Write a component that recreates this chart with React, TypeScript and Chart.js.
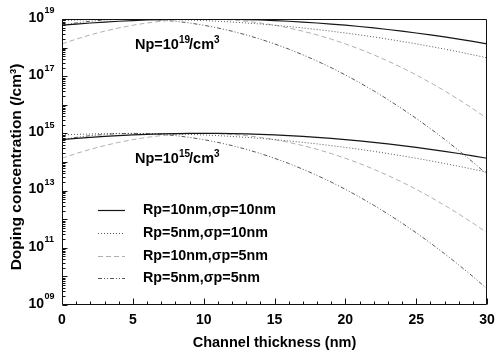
import { useEffect, useRef } from "react";
import { Chart, registerables } from "chart.js";

Chart.register(...registerables);

// Channel thickness (nm)
const X_NM = [0, 1, 2, 3, 4, 5, 6, 7, 8, 9, 10, 11, 12, 13, 14, 15, 16, 17, 18, 19, 20, 21, 22, 23, 24, 25, 26, 27, 28, 29, 30];

const SERIES_LABELS = [
  "Rp=10nm,\u03c3p=10nm",
  "Rp=5nm,\u03c3p=10nm",
  "Rp=10nm,\u03c3p=5nm",
  "Rp=5nm,\u03c3p=5nm",
];

// Np = 1e19 /cm3
const A19 = [6.07e18, 6.67e18, 7.26e18, 7.83e18, 8.36e18, 8.83e18, 9.23e18, 9.55e18, 9.8e18, 9.95e18, 1.0e19, 9.95e18, 9.8e18, 9.55e18, 9.23e18, 8.83e18, 8.36e18, 7.83e18, 7.26e18, 6.67e18, 6.07e18, 5.46e18, 4.86e18, 4.3e18, 3.75e18, 3.24e18, 2.78e18, 2.36e18, 1.98e18, 1.64e18, 1.35e18];
const B19 = [8.83e18, 9.23e18, 9.55e18, 9.8e18, 9.95e18, 1.0e19, 9.95e18, 9.8e18, 9.55e18, 9.23e18, 8.83e18, 8.36e18, 7.83e18, 7.26e18, 6.67e18, 6.07e18, 5.46e18, 4.86e18, 4.3e18, 3.75e18, 3.24e18, 2.78e18, 2.36e18, 1.98e18, 1.64e18, 1.35e18, 1.1e18, 8.89e17, 7.1e17, 5.61e17, 4.4e17];
const C19 = [1.35e18, 1.98e18, 2.78e18, 3.75e18, 4.86e18, 6.07e18, 7.26e18, 8.36e18, 9.23e18, 9.8e18, 1.0e19, 9.8e18, 9.23e18, 8.36e18, 7.26e18, 6.07e18, 4.86e18, 3.75e18, 2.78e18, 1.98e18, 1.35e18, 8.89e17, 5.61e17, 3.4e17, 1.99e17, 1.11e17, 5.97e16, 3.09e16, 1.53e16, 7.31e15, 3.36e15];
const D19 = [6.07e18, 7.26e18, 8.36e18, 9.23e18, 9.8e18, 1.0e19, 9.8e18, 9.23e18, 8.36e18, 7.26e18, 6.07e18, 4.86e18, 3.75e18, 2.78e18, 1.98e18, 1.35e18, 8.89e17, 5.61e17, 3.4e17, 1.99e17, 1.11e17, 5.97e16, 3.09e16, 1.53e16, 7.31e15, 3.36e15, 1.48e15, 6.25e14, 2.54e14, 9.93e13, 3.72e13];

// Np = 1e15 /cm3
const A15 = [6.07e14, 6.67e14, 7.26e14, 7.83e14, 8.36e14, 8.83e14, 9.23e14, 9.55e14, 9.8e14, 9.95e14, 1.0e15, 9.95e14, 9.8e14, 9.55e14, 9.23e14, 8.83e14, 8.36e14, 7.83e14, 7.26e14, 6.67e14, 6.07e14, 5.46e14, 4.86e14, 4.3e14, 3.75e14, 3.24e14, 2.78e14, 2.36e14, 1.98e14, 1.64e14, 1.35e14];
const B15 = [8.83e14, 9.23e14, 9.55e14, 9.8e14, 9.95e14, 1.0e15, 9.95e14, 9.8e14, 9.55e14, 9.23e14, 8.83e14, 8.36e14, 7.83e14, 7.26e14, 6.67e14, 6.07e14, 5.46e14, 4.86e14, 4.3e14, 3.75e14, 3.24e14, 2.78e14, 2.36e14, 1.98e14, 1.64e14, 1.35e14, 1.1e14, 8.89e13, 7.1e13, 5.61e13, 4.4e13];
const C15 = [1.35e14, 1.98e14, 2.78e14, 3.75e14, 4.86e14, 6.07e14, 7.26e14, 8.36e14, 9.23e14, 9.8e14, 1.0e15, 9.8e14, 9.23e14, 8.36e14, 7.26e14, 6.07e14, 4.86e14, 3.75e14, 2.78e14, 1.98e14, 1.35e14, 8.89e13, 5.61e13, 3.4e13, 1.99e13, 1.11e13, 5.97e12, 3.09e12, 1.53e12, 7.31e11, 3.36e11];
const D15 = [6.07e14, 7.26e14, 8.36e14, 9.23e14, 9.8e14, 1.0e15, 9.8e14, 9.23e14, 8.36e14, 7.26e14, 6.07e14, 4.86e14, 3.75e14, 2.78e14, 1.98e14, 1.35e14, 8.89e13, 5.61e13, 3.4e13, 1.99e13, 1.11e13, 5.97e12, 3.09e12, 1.53e12, 7.31e11, 3.36e11, 1.48e11, 6.25e10, 2.54e10, 9.93e9, 3.72e9];

const Y_TICK_VALUES = [1e9, 1e11, 1e13, 1e15, 1e17, 1e19];
const Y_TICK_EXPONENTS = ["09", "11", "13", "15", "17", "19"];
const X_TICK_VALUES = [0, 5, 10, 15, 20, 25, 30];

const X_TITLE = "Channel thickness (nm)";
const Y_TITLE = "Doping concentration (/cm\u00b3)";
const NOTE_BASES = [
  { value: 1e19, exp: "19" },
  { value: 1e15, exp: "15" },
];

const FONT = "'Liberation Sans', Arial, Helvetica, sans-serif";

const STYLES = [
  { color: "#151515", dash: [] as number[], width: 1.2 },
  { color: "#555555", dash: [1, 2], width: 1 },
  { color: "#b0b0b0", dash: [5, 3], width: 1 },
  { color: "#444444", dash: [4, 2, 1, 2, 1, 2], width: 0.9 },
];

const decorPlugin = {
  id: "decor",
  afterDraw(chart: any) {
    const ctx: CanvasRenderingContext2D = chart.ctx;
    const { left, right, top, bottom } = chart.chartArea;
    const xs = chart.scales.x;
    const ys = chart.scales.y;
    ctx.save();
    ctx.strokeStyle = "#111";
    ctx.lineWidth = 1;
    ctx.setLineDash([]);
    const L = Math.round(left) + 0.5;
    const R = Math.round(right) - 0.5;
    const T = Math.round(top) + 0.5;
    const B = Math.round(bottom) - 0.5;
    ctx.beginPath();
    ctx.moveTo(L, T);
    ctx.lineTo(R, T);
    ctx.lineTo(R, B);
    ctx.lineTo(L, B);
    ctx.closePath();
    ctx.stroke();

    // y ticks (log minor)
    ctx.beginPath();
    for (let e = 9; e <= 19; e++) {
      for (let m = 1; m <= 9; m++) {
        const v = m * Math.pow(10, e);
        if (v > 1e19 * 1.0001) break;
        const py = Math.round(ys.getPixelForValue(v)) + 0.5;
        const len = m === 1 ? 5 : 3;
        ctx.moveTo(L, py);
        ctx.lineTo(L + len, py);
      }
    }
    // x ticks
    for (let i = 0; i <= 30; i++) {
      const px = Math.round(xs.getPixelForValue(i)) + 0.5;
      const len = i % 5 === 0 ? 6 : 3;
      ctx.moveTo(px, B);
      ctx.lineTo(px, B - len);
    }
    ctx.stroke();

    ctx.fillStyle = "#000";
    // y tick labels
    Y_TICK_VALUES.forEach((v, i) => {
      const py = ys.getPixelForValue(v);
      ctx.font = `bold 14px ${FONT}`;
      ctx.textAlign = "right";
      ctx.textBaseline = "middle";
      ctx.fillText("10", 44, py - 1);
      ctx.font = `bold 9px ${FONT}`;
      ctx.textAlign = "left";
      ctx.fillText(Y_TICK_EXPONENTS[i], 44.5, py - 8);
    });

    // x tick labels
    ctx.font = `bold 14px ${FONT}`;
    ctx.textAlign = "center";
    ctx.textBaseline = "middle";
    X_TICK_VALUES.forEach((v) => {
      ctx.fillText(String(v), xs.getPixelForValue(v), 320);
    });

    // axis titles
    ctx.font = `bold 14.5px ${FONT}`;
    ctx.fillText(X_TITLE, (left + right) / 2, 343);
    ctx.save();
    ctx.translate(17, 167);
    ctx.rotate(-Math.PI / 2);
    ctx.font = `bold 15.5px ${FONT}`;
    ctx.fillText(Y_TITLE, 0, 0);
    ctx.restore();

    // Np annotations
    NOTE_BASES.forEach((n) => {
      const base = ys.getPixelForValue(n.value) + 30;
      let x = 135;
      ctx.textAlign = "left";
      ctx.textBaseline = "alphabetic";
      ctx.font = `bold 14.5px ${FONT}`;
      ctx.fillText("Np=10", x, base);
      x += ctx.measureText("Np=10").width;
      ctx.font = `bold 10px ${FONT}`;
      ctx.fillText(n.exp, x, base - 6);
      x += ctx.measureText(n.exp).width - 1;
      ctx.font = `bold 14.5px ${FONT}`;
      ctx.fillText("/cm", x, base);
      x += ctx.measureText("/cm").width;
      ctx.font = `bold 10px ${FONT}`;
      ctx.fillText("3", x, base - 6);
    });

    // legend
    const rows = [210, 233, 256, 278];
    SERIES_LABELS.forEach((label, i) => {
      const st = STYLES[i];
      const y = rows[i] + 0.5;
      ctx.strokeStyle = st.color;
      ctx.lineWidth = st.width;
      ctx.setLineDash(st.dash);
      ctx.beginPath();
      ctx.moveTo(98, y);
      ctx.lineTo(125, y);
      ctx.stroke();
      ctx.setLineDash([]);
      ctx.fillStyle = "#000";
      ctx.font = `bold 14.3px ${FONT}`;
      ctx.textAlign = "left";
      ctx.textBaseline = "middle";
      ctx.fillText(label, 143, rows[i]);
    });
    ctx.restore();
  },
};

export default function App() {
  const ref = useRef<HTMLCanvasElement | null>(null);
  useEffect(() => {
    if (!ref.current) return;
    const groups = [
      [A19, B19, C19, D19],
      [A15, B15, C15, D15],
    ];
    const datasets: any[] = [];
    groups.forEach((g, gi) => {
      g.forEach((arr, si) => {
        const st = STYLES[si];
        datasets.push({
          label: SERIES_LABELS[si] + (gi === 0 ? " (1e19)" : " (1e15)"),
          data: X_NM.map((x, i) => ({ x, y: arr[i] })),
          borderColor: st.color,
          borderDash: st.dash,
          borderWidth: st.width,
          pointRadius: 0,
          fill: false,
          tension: 0,
        });
      });
    });
    const chart = new Chart(ref.current, {
      type: "line",
      data: { datasets },
      options: {
        animation: false,
        responsive: false,
        maintainAspectRatio: false,
        devicePixelRatio: 1,
        layout: { padding: { left: 62, right: 9, top: 19, bottom: 50 } },
        plugins: { legend: { display: false }, tooltip: { enabled: false } },
        scales: {
          x: { type: "linear", min: 0, max: 30, display: false },
          y: { type: "logarithmic", min: 1e9, max: 1e19, display: false },
        },
      },
      plugins: [decorPlugin],
    });
    return () => chart.destroy();
  }, []);
  return (
    <div style={{ position: "fixed", left: 0, top: 0, width: 496, height: 355, background: "#fff" }}>
      <canvas ref={ref} width={496} height={355} style={{ display: "block" }} />
    </div>
  );
}
